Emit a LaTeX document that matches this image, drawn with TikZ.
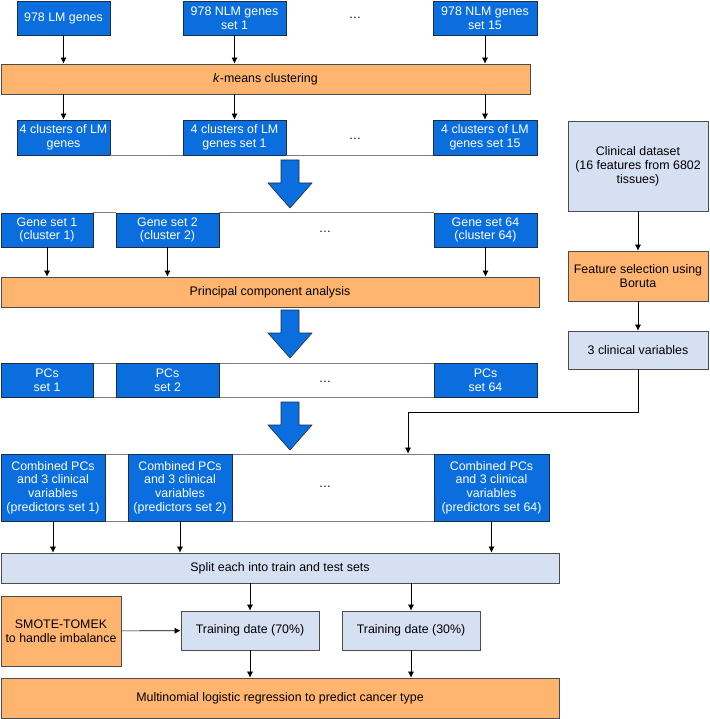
\documentclass[tikz,border=0pt]{standalone}
\usepackage{fontspec}
\setmainfont{Liberation Sans}
\usetikzlibrary{arrows.meta}
\definecolor{boxblue}{RGB}{10,110,222}
\definecolor{boxedge}{RGB}{30,45,70}
\definecolor{boxorange}{RGB}{255,181,112}
\definecolor{boxlight}{RGB}{213,224,242}
\definecolor{rowgray}{RGB}{125,125,125}

\begin{document}
\begin{tikzpicture}[x=1pt, y=-1pt,
    every node/.style={font=\fontsize{12.4}{13.8}\selectfont, align=center, inner sep=0pt},
    bluebox/.style={draw=boxedge, fill=boxblue, text=white, line width=0.8pt, minimum height=34pt},
    orangebar/.style={draw=black!70, fill=boxorange, line width=0.8pt},
    lightbox/.style={draw=black!70, fill=boxlight, line width=0.8pt},
    rowframe/.style={draw=rowgray, fill=white, line width=0.8pt},
    rowline/.style={draw=rowgray, line width=0.8pt},
    flow/.style={-{Latex[length=6pt,width=6pt]}, line width=0.6pt},
    bigarrow/.style={draw=boxedge, fill=boxblue, line width=0.6pt}]
    \useasboundingbox (0,0) rectangle (709,719);

    % Gene inputs
    \node[bluebox, minimum width=93pt] (lm) at (63.5,18) {978 LM genes};
    \node[bluebox, minimum width=103pt] (nlm1) at (234.5,18) {978 NLM genes\\set 1};
    \node (dotsA) at (355,18) {\dots};
    \node[bluebox, minimum width=104pt] (nlm15) at (485,18) {978 NLM genes\\set 15};

    % Clustering
    \node[orangebar, minimum width=529pt, minimum height=30pt] (kmeans) at (265.5,79) {\textit{k}-means clustering};
    \node[bluebox, minimum width=93pt, minimum height=35pt] (cl1) at (63.5,137.5) {4 clusters of LM\\genes};
    \node[bluebox, minimum width=103pt, minimum height=35pt] (cl2) at (234.5,137.5) {4 clusters of LM\\genes set 1};
    \node (dotsB) at (355,139) {\dots};
    \node[bluebox, minimum width=104pt, minimum height=35pt] (cl3) at (485,137.5) {4 clusters of LM\\genes set 15};
    \draw[rowline] (cl1.south east) -- (cl2.south west) (cl2.south east) -- (cl3.south west);

    % Gene sets
    \node[bluebox, minimum width=92pt] (gs1) at (47,230) {Gene set 1\\(cluster 1)};
    \node[bluebox, minimum width=103pt] (gs2) at (167.5,230) {Gene set 2\\(cluster 2)};
    \node (dotsC) at (325,232) {\dots};
    \node[bluebox, minimum width=103pt] (gs64) at (485.5,230) {Gene set 64\\(cluster 64)};
    \draw[rowline] (gs1.north east) -- (gs2.north west) (gs2.north east) -- (gs64.north west);

    % PCA
    \node[orangebar, minimum width=538pt, minimum height=30pt] (pca) at (270,292) {Principal component analysis};
    \node[rowframe, minimum width=536pt, minimum height=34pt] (pcrow) at (269,380) {};
    \node[bluebox, minimum width=92pt] (pc1) at (47,380) {PCs\\set 1};
    \node[bluebox, minimum width=103pt] (pc2) at (167.5,380) {PCs\\set 2};
    \node (dotsD) at (325,382) {\dots};
    \node[bluebox, minimum width=103pt] (pc64) at (485.5,380) {PCs\\set 64};

    % Predictors
    \node[rowframe, minimum width=548pt, minimum height=67pt] (cbrow) at (275,487.5) {};
    \node[bluebox, minimum width=104pt, minimum height=67pt] (cb1) at (53,487.5) {Combined PCs\\and 3 clinical\\variables\\(predictors set 1)};
    \node[bluebox, minimum width=104pt, minimum height=67pt] (cb2) at (180,487.5) {Combined PCs\\and 3 clinical\\variables\\(predictors set 2)};
    \node (dotsE) at (325,487) {\dots};
    \node[bluebox, minimum width=115pt, minimum height=67pt] (cb64) at (491.5,487.5) {Combined PCs\\and 3 clinical\\variables\\(predictors set 64)};

    % Modelling
    \node[lightbox, minimum width=558pt, minimum height=30pt] (split) at (280,568) {Split each into train and test sets};
    \node[orangebar, minimum width=120pt, minimum height=70pt] (smote) at (61,631) {SMOTE-TOMEK\\to handle imbalance};
    \node[lightbox, minimum width=138pt, minimum height=39pt] (tr70) at (250,630.5) {Training date (70\%)};
    \node[lightbox, minimum width=138pt, minimum height=39pt] (tr30) at (411,630.5) {Training date (30\%)};
    \node[orangebar, minimum width=558pt, minimum height=40pt] (multi) at (280,698) {Multinomial logistic regression to predict cancer type};

    % Clinical branch
    \node[lightbox, minimum width=140pt, minimum height=90pt] (clin) at (638,166) {Clinical dataset\\(16 features from 6802\\tissues)};
    \node[orangebar, minimum width=140pt, minimum height=50pt] (boruta) at (638,276) {Feature selection using\\Boruta};
    \node[lightbox, minimum width=140pt, minimum height=38pt] (clvar) at (638,350) {3 clinical variables};
    \coordinate (bend) at (408,412);

    % Connectors
    \foreach \a/\b in {lm/cl1, nlm1/cl2, nlm15/cl3} {
        \draw[flow] (\a.south) -- (\a.south |- kmeans.north);
        \draw[flow] (\b.north |- kmeans.south) -- (\b.north);
    }
    \foreach \g in {gs1, gs2, gs64}
        \draw[flow] (\g.south) -- (\g.south |- pca.north);
    \foreach \c in {cb1, cb2, cb64}
        \draw[flow] (\c.south) -- (\c.south |- split.north);
    \foreach \t in {tr70, tr30} {
        \draw[flow] (\t.north |- split.south) -- (\t.north);
        \draw[flow] (\t.south) -- (\t.south |- multi.north);
    }
    \draw[flow] (smote) -- (tr70);
    \draw[flow] (clin) -- (boruta);
    \draw[flow] (boruta) -- (clvar);
    \draw[flow] (clvar.south) |- (bend) -- (bend |- cbrow.north);

    % Big block arrows
    \foreach \t in {160, 310, 402}
        \draw[bigarrow] (281,\t) -- (299,\t) -- (299,\t+23) -- (312,\t+23) -- (290,\t+48) -- (268,\t+23) -- (281,\t+23) -- cycle;
\end{tikzpicture}
\end{document}
